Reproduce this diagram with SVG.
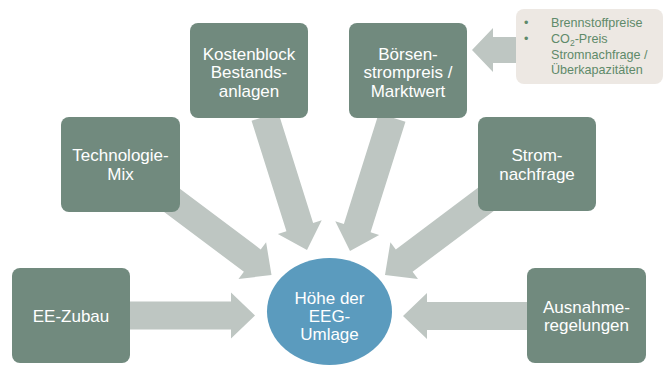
<svg xmlns="http://www.w3.org/2000/svg" width="670" height="367" viewBox="0 0 670 367">
<defs>
<style>
.box{fill:#718a7e}
.lbl{font-family:"Liberation Sans",Arial,sans-serif;font-size:17px;fill:#ffffff;text-anchor:middle}
.arr{fill:#bec6c2}
.note{font-family:"Liberation Sans",Arial,sans-serif;font-size:12.6px;fill:#5f8a6a}
</style>
<polygon id="big" points="-140,-14 -24,-14 -24,-23 0,0 -24,23 -24,14 -140,14"/>
</defs>
<rect width="670" height="367" fill="#ffffff"/>
<g id="connectors" class="arr">
<use href="#big" transform="translate(255,315.5)"/>
<use href="#big" transform="translate(403,316) rotate(180)"/>
<use href="#big" transform="translate(271.5,275) rotate(36.87)"/>
<use href="#big" transform="translate(385,275) rotate(143.13)"/>
<use href="#big" transform="translate(307,250) rotate(72.5)"/>
<use href="#big" transform="translate(350,251) rotate(107.5)"/>
<polygon points="472,50 493,28 493,37 525,37 525,63 493,63 493,72"/>
</g>
<g id="ee-zubau">
<rect class="box" x="12" y="268" width="118" height="95" rx="8"/>
<text class="lbl" x="71" y="321.5">EE-Zubau</text>
</g>
<g id="technologie-mix">
<rect class="box" x="61" y="117" width="119" height="95" rx="8"/>
<text class="lbl" x="120.5" y="161">Technologie-</text>
<text class="lbl" x="120.5" y="179.5">Mix</text>
</g>
<g id="kostenblock">
<rect class="box" x="190" y="23" width="118" height="95" rx="8"/>
<text class="lbl" x="249" y="59.5">Kostenblock</text>
<text class="lbl" x="249" y="78">Bestands-</text>
<text class="lbl" x="249" y="96.5">anlagen</text>
</g>
<g id="boersenstrompreis">
<rect class="box" x="349" y="23" width="118" height="95" rx="8"/>
<text class="lbl" x="408" y="59.5">Börsen-</text>
<text class="lbl" x="408" y="78">strompreis /</text>
<text class="lbl" x="408" y="96.5">Marktwert</text>
</g>
<g id="stromnachfrage">
<rect class="box" x="478" y="117" width="118" height="94" rx="8"/>
<text class="lbl" x="537" y="161">Strom-</text>
<text class="lbl" x="537" y="179.5">nachfrage</text>
</g>
<g id="ausnahmeregelungen">
<rect class="box" x="527" y="268" width="119" height="95" rx="8"/>
<text class="lbl" x="586.5" y="312.5">Ausnahme-</text>
<text class="lbl" x="586.5" y="331">regelungen</text>
</g>
<g id="eeg-umlage">
<ellipse cx="329.5" cy="311.5" rx="62.5" ry="53.5" fill="#5b9bbe"/>
<text class="lbl" x="329.5" y="304">Höhe der</text>
<text class="lbl" x="329.5" y="322">EEG-</text>
<text class="lbl" x="329.5" y="340">Umlage</text>
</g>
<g id="einflussfaktoren">
<rect x="516" y="9" width="147" height="75" rx="8" fill="#ede8e3"/>
<text class="note" x="524" y="27">•</text>
<text class="note" x="551" y="27">Brennstoffpreise</text>
<text class="note" x="524" y="43">•</text>
<text class="note" x="551" y="43">CO<tspan font-size="8.5" dy="3">2</tspan><tspan dy="-3">-Preis</tspan></text>
<text class="note" x="551" y="58.5">Stromnachfrage /</text>
<text class="note" x="551" y="74">Überkapazitäten</text>
</g>
</svg>
